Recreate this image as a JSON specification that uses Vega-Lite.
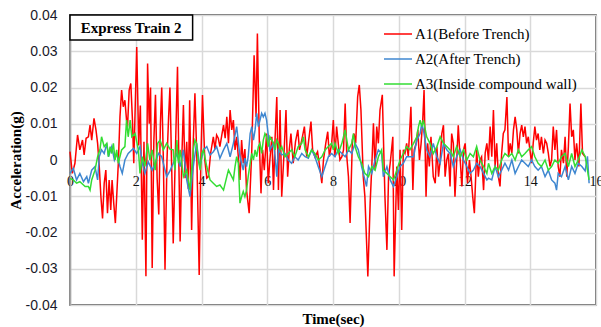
{
"$schema": "https://vega.github.io/schema/vega-lite/v6.json",
"width": 526, "height": 290,
"autosize": {"type": "none"},
"padding": {"left": 70, "top": 15, "right": 5, "bottom": 22},
"background": "white",
"config": {"view": {"stroke": "#3a3a3a", "strokeWidth": 1.5}},
"datasets": {
"a1": [{"t":0,"v":0.0023},{"t":0.07,"v":-0.0037},{"t":0.15,"v":-0.0009},{"t":0.23,"v":0.0069},{"t":0.30,"v":0.0028},{"t":0.38,"v":0.0055},{"t":0.43,"v":0.0014},{"t":0.49,"v":0.0060},{"t":0.56,"v":0.0064},{"t":0.61,"v":0.0096},{"t":0.66,"v":0.0055},{"t":0.73,"v":0.0115},{"t":0.79,"v":0.0083},{"t":0.84,"v":0.0046},{"t":0.89,"v":-0.0018},{"t":0.94,"v":-0.0101},{"t":0.99,"v":-0.0161},{"t":1.04,"v":-0.0064},{"t":1.09,"v":-0.0028},{"t":1.14,"v":-0.0147},{"t":1.19,"v":-0.0055},{"t":1.24,"v":-0.0138},{"t":1.28,"v":-0.0055},{"t":1.33,"v":-0.0119},{"t":1.38,"v":-0.0174},{"t":1.42,"v":-0.0101},{"t":1.47,"v":-0.0009},{"t":1.52,"v":0.0119},{"t":1.57,"v":0.0193},{"t":1.62,"v":0.0147},{"t":1.67,"v":0.0165},{"t":1.72,"v":0.0110},{"t":1.75,"v":0.0092},{"t":1.80,"v":0.0193},{"t":1.85,"v":0.0211},{"t":1.90,"v":0.0110},{"t":1.94,"v":-0.0009},{"t":2.03,"v":0.0312},{"t":2.09,"v":0.0040},{"t":2.14,"v":0.0150},{"t":2.20,"v":-0.0220},{"t":2.25,"v":0.0050},{"t":2.31,"v":-0.0321},{"t":2.36,"v":0.0266},{"t":2.41,"v":0.0100},{"t":2.45,"v":0.0200},{"t":2.50,"v":-0.0298},{"t":2.55,"v":0.0050},{"t":2.60,"v":0.0180},{"t":2.65,"v":-0.0050},{"t":2.70,"v":-0.0150},{"t":2.75,"v":0.0100},{"t":2.79,"v":0.0200},{"t":2.84,"v":0.0000},{"t":2.89,"v":-0.0303},{"t":2.95,"v":0.0000},{"t":3.00,"v":0.0120},{"t":3.04,"v":0.0200},{"t":3.10,"v":-0.0050},{"t":3.14,"v":-0.0230},{"t":3.20,"v":0.0000},{"t":3.27,"v":0.0257},{"t":3.31,"v":0.0000},{"t":3.35,"v":-0.0225},{"t":3.40,"v":0.0000},{"t":3.45,"v":0.0152},{"t":3.50,"v":-0.0050},{"t":3.55,"v":0.0050},{"t":3.60,"v":-0.0080},{"t":3.64,"v":0.0165},{"t":3.70,"v":-0.0193},{"t":3.75,"v":0.0050},{"t":3.80,"v":0.0184},{"t":3.86,"v":0.0000},{"t":3.93,"v":-0.0317},{"t":3.98,"v":0.0000},{"t":4.03,"v":0.0179},{"t":4.10,"v":0.0000},{"t":4.16,"v":-0.0050},{"t":4.21,"v":-0.0046},{"t":4.28,"v":0.0020},{"t":4.36,"v":0.0064},{"t":4.41,"v":0.0030},{"t":4.46,"v":0.0069},{"t":4.51,"v":0.0060},{"t":4.56,"v":0.0037},{"t":4.62,"v":0.0070},{"t":4.67,"v":0.0096},{"t":4.72,"v":0.0060},{"t":4.77,"v":0.0119},{"t":4.82,"v":0.0046},{"t":4.87,"v":0.0138},{"t":4.92,"v":0.0083},{"t":4.97,"v":0.0110},{"t":5.02,"v":0.0028},{"t":5.07,"v":0.0064},{"t":5.12,"v":0.0009},{"t":5.17,"v":-0.0055},{"t":5.22,"v":0.0055},{"t":5.27,"v":-0.0009},{"t":5.32,"v":0.0030},{"t":5.37,"v":-0.0083},{"t":5.45,"v":-0.0147},{"t":5.53,"v":0.0028},{"t":5.60,"v":0.0289},{"t":5.66,"v":0.0119},{"t":5.70,"v":0.0349},{"t":5.76,"v":0.0046},{"t":5.81,"v":-0.0092},{"t":5.86,"v":0.0028},{"t":5.91,"v":-0.0028},{"t":5.98,"v":0.0073},{"t":6.03,"v":-0.0064},{"t":6.08,"v":0.0000},{"t":6.14,"v":0.0064},{"t":6.19,"v":-0.0083},{"t":6.24,"v":0.0064},{"t":6.29,"v":0.0174},{"t":6.34,"v":-0.0083},{"t":6.39,"v":0.0138},{"t":6.44,"v":-0.0101},{"t":6.51,"v":0.0018},{"t":6.57,"v":0.0138},{"t":6.62,"v":-0.0046},{"t":6.67,"v":0.0028},{"t":6.72,"v":0.0073},{"t":6.79,"v":-0.0009},{"t":6.86,"v":0.0051},{"t":6.93,"v":0.0083},{"t":6.98,"v":0.0028},{"t":7.05,"v":0.0055},{"t":7.13,"v":0.0092},{"t":7.20,"v":0.0009},{"t":7.25,"v":0.0046},{"t":7.33,"v":0.0106},{"t":7.38,"v":0.0028},{"t":7.45,"v":0.0009},{"t":7.53,"v":0.0023},{"t":7.61,"v":-0.0028},{"t":7.66,"v":-0.0064},{"t":7.71,"v":0.0000},{"t":7.78,"v":0.0046},{"t":7.84,"v":0.0078},{"t":7.89,"v":0.0009},{"t":7.96,"v":0.0046},{"t":8.01,"v":0.0110},{"t":8.06,"v":0.0009},{"t":8.11,"v":0.0092},{"t":8.16,"v":0.0046},{"t":8.21,"v":0.0000},{"t":8.27,"v":0.0009},{"t":8.32,"v":0.0028},{"t":8.37,"v":0.0156},{"t":8.42,"v":0.0009},{"t":8.47,"v":-0.0046},{"t":8.52,"v":-0.0174},{"t":8.59,"v":0.0055},{"t":8.64,"v":0.0073},{"t":8.69,"v":0.0046},{"t":8.75,"v":0.0174},{"t":8.80,"v":0.0207},{"t":8.85,"v":0.0138},{"t":8.92,"v":-0.0046},{"t":8.97,"v":-0.0101},{"t":9.06,"v":-0.0321},{"t":9.13,"v":-0.0119},{"t":9.18,"v":-0.0018},{"t":9.23,"v":0.0101},{"t":9.28,"v":-0.0028},{"t":9.33,"v":0.0092},{"t":9.38,"v":0.0046},{"t":9.43,"v":0.0138},{"t":9.50,"v":0.0180},{"t":9.58,"v":-0.0101},{"t":9.64,"v":-0.0248},{"t":9.69,"v":-0.0046},{"t":9.74,"v":-0.0009},{"t":9.82,"v":0.0064},{"t":9.86,"v":-0.0321},{"t":9.94,"v":-0.0018},{"t":9.99,"v":-0.0138},{"t":10.04,"v":0.0028},{"t":10.09,"v":-0.0193},{"t":10.14,"v":0.0028},{"t":10.19,"v":0.0018},{"t":10.24,"v":0.0046},{"t":10.29,"v":0.0009},{"t":10.37,"v":0.0147},{"t":10.43,"v":-0.0083},{"t":10.47,"v":0.0028},{"t":10.53,"v":0.0046},{"t":10.58,"v":0.0083},{"t":10.63,"v":0.0000},{"t":10.68,"v":0.0046},{"t":10.73,"v":0.0110},{"t":10.77,"v":0.0193},{"t":10.83,"v":-0.0101},{"t":10.88,"v":0.0046},{"t":10.93,"v":-0.0018},{"t":10.98,"v":0.0064},{"t":11.05,"v":-0.0046},{"t":11.11,"v":-0.0064},{"t":11.16,"v":0.0037},{"t":11.21,"v":-0.0046},{"t":11.26,"v":0.0000},{"t":11.31,"v":0.0073},{"t":11.36,"v":0.0096},{"t":11.41,"v":-0.0046},{"t":11.46,"v":0.0000},{"t":11.51,"v":0.0018},{"t":11.56,"v":-0.0073},{"t":11.61,"v":0.0073},{"t":11.66,"v":0.0046},{"t":11.71,"v":-0.0101},{"t":11.76,"v":-0.0009},{"t":11.81,"v":0.0096},{"t":11.87,"v":0.0000},{"t":11.92,"v":-0.0073},{"t":11.97,"v":0.0028},{"t":12.02,"v":0.0046},{"t":12.09,"v":-0.0064},{"t":12.15,"v":0.0000},{"t":12.20,"v":-0.0046},{"t":12.25,"v":-0.0101},{"t":12.30,"v":-0.0147},{"t":12.37,"v":0.0028},{"t":12.42,"v":-0.0046},{"t":12.47,"v":0.0000},{"t":12.52,"v":0.0009},{"t":12.58,"v":-0.0083},{"t":12.63,"v":0.0020},{"t":12.68,"v":0.0046},{"t":12.73,"v":0.0000},{"t":12.78,"v":0.0092},{"t":12.83,"v":0.0009},{"t":12.88,"v":0.0138},{"t":12.93,"v":-0.0018},{"t":12.98,"v":0.0046},{"t":13.03,"v":-0.0046},{"t":13.08,"v":-0.0073},{"t":13.13,"v":0.0018},{"t":13.18,"v":0.0073},{"t":13.23,"v":0.0083},{"t":13.29,"v":0.0174},{"t":13.34,"v":0.0009},{"t":13.39,"v":0.0046},{"t":13.44,"v":0.0018},{"t":13.49,"v":0.0083},{"t":13.54,"v":0.0119},{"t":13.59,"v":0.0083},{"t":13.64,"v":0.0018},{"t":13.69,"v":0.0073},{"t":13.74,"v":0.0096},{"t":13.79,"v":0.0064},{"t":13.84,"v":0.0092},{"t":13.89,"v":0.0046},{"t":13.94,"v":0.0064},{"t":13.99,"v":0.0028},{"t":14.04,"v":-0.0009},{"t":14.09,"v":0.0046},{"t":14.14,"v":0.0092},{"t":14.19,"v":0.0055},{"t":14.24,"v":0.0073},{"t":14.29,"v":0.0028},{"t":14.34,"v":0.0064},{"t":14.40,"v":0.0018},{"t":14.45,"v":0.0055},{"t":14.50,"v":0.0046},{"t":14.55,"v":0.0018},{"t":14.60,"v":-0.0018},{"t":14.65,"v":0.0000},{"t":14.70,"v":0.0092},{"t":14.75,"v":0.0028},{"t":14.80,"v":0.0083},{"t":14.85,"v":-0.0018},{"t":14.90,"v":-0.0046},{"t":14.95,"v":0.0028},{"t":15.01,"v":-0.0009},{"t":15.06,"v":0.0064},{"t":15.11,"v":-0.0046},{"t":15.16,"v":0.0037},{"t":15.21,"v":0.0156},{"t":15.26,"v":0.0064},{"t":15.31,"v":0.0083},{"t":15.36,"v":0.0000},{"t":15.41,"v":0.0046},{"t":15.48,"v":-0.0018},{"t":15.54,"v":0.0156},{"t":15.59,"v":0.0018},{"t":15.67,"v":0.0009}],
"a2": [{"t":0,"v":-0.0037},{"t":0.10,"v":-0.0023},{"t":0.20,"v":-0.0055},{"t":0.30,"v":-0.0037},{"t":0.41,"v":-0.0060},{"t":0.51,"v":-0.0046},{"t":0.56,"v":-0.0064},{"t":0.66,"v":-0.0028},{"t":0.76,"v":-0.0018},{"t":0.84,"v":-0.0055},{"t":0.89,"v":0.0009},{"t":0.96,"v":0.0028},{"t":1.04,"v":0.0018},{"t":1.12,"v":0.0046},{"t":1.17,"v":0.0009},{"t":1.27,"v":0.0037},{"t":1.35,"v":0.0000},{"t":1.42,"v":0.0018},{"t":1.52,"v":-0.0018},{"t":1.59,"v":-0.0037},{"t":1.67,"v":0.0000},{"t":1.77,"v":0.0018},{"t":1.93,"v":0.0032},{"t":2.03,"v":0.0018},{"t":2.13,"v":0.0037},{"t":2.20,"v":-0.0009},{"t":2.28,"v":-0.0037},{"t":2.38,"v":-0.0005},{"t":2.50,"v":-0.0028},{"t":2.59,"v":-0.0009},{"t":2.69,"v":0.0018},{"t":2.79,"v":0.0009},{"t":2.94,"v":-0.0046},{"t":3.04,"v":-0.0030},{"t":3.14,"v":-0.0009},{"t":3.25,"v":0.0018},{"t":3.35,"v":-0.0018},{"t":3.45,"v":0.0028},{"t":3.55,"v":-0.0055},{"t":3.65,"v":-0.0101},{"t":3.75,"v":-0.0018},{"t":3.85,"v":0.0046},{"t":3.95,"v":-0.0018},{"t":4.06,"v":0.0028},{"t":4.16,"v":0.0037},{"t":4.26,"v":0.0014},{"t":4.36,"v":0.0023},{"t":4.46,"v":0.0037},{"t":4.56,"v":0.0005},{"t":4.67,"v":0.0028},{"t":4.77,"v":0.0046},{"t":4.87,"v":0.0009},{"t":4.97,"v":0.0046},{"t":5.07,"v":0.0092},{"t":5.17,"v":0.0009},{"t":5.22,"v":-0.0009},{"t":5.27,"v":-0.0028},{"t":5.32,"v":0.0005},{"t":5.37,"v":-0.0018},{"t":5.42,"v":0.0009},{"t":5.48,"v":0.0073},{"t":5.53,"v":0.0092},{"t":5.58,"v":0.0055},{"t":5.63,"v":0.0083},{"t":5.68,"v":0.0129},{"t":5.73,"v":0.0092},{"t":5.78,"v":0.0110},{"t":5.83,"v":0.0129},{"t":5.88,"v":0.0119},{"t":5.93,"v":0.0129},{"t":5.98,"v":0.0110},{"t":6.03,"v":0.0069},{"t":6.08,"v":0.0028},{"t":6.19,"v":0.0046},{"t":6.24,"v":0.0010},{"t":6.29,"v":-0.0046},{"t":6.34,"v":0.0028},{"t":6.44,"v":0.0014},{"t":6.54,"v":0.0018},{"t":6.64,"v":0.0000},{"t":6.74,"v":-0.0009},{"t":6.84,"v":0.0009},{"t":6.94,"v":0.0000},{"t":7.05,"v":0.0018},{"t":7.15,"v":0.0009},{"t":7.25,"v":0.0005},{"t":7.35,"v":0.0028},{"t":7.45,"v":0.0009},{"t":7.55,"v":-0.0018},{"t":7.66,"v":-0.0046},{"t":7.76,"v":-0.0018},{"t":7.86,"v":0.0009},{"t":7.96,"v":0.0018},{"t":8.06,"v":0.0009},{"t":8.16,"v":0.0028},{"t":8.27,"v":0.0018},{"t":8.37,"v":0.0009},{"t":8.47,"v":0.0028},{"t":8.57,"v":0.0018},{"t":8.67,"v":0.0046},{"t":8.77,"v":0.0028},{"t":8.87,"v":-0.0018},{"t":8.97,"v":-0.0055},{"t":9.02,"v":-0.0073},{"t":9.08,"v":-0.0018},{"t":9.18,"v":-0.0037},{"t":9.28,"v":0.0000},{"t":9.38,"v":0.0028},{"t":9.48,"v":0.0018},{"t":9.53,"v":-0.0046},{"t":9.64,"v":-0.0018},{"t":9.74,"v":-0.0055},{"t":9.84,"v":-0.0073},{"t":9.94,"v":-0.0046},{"t":10.04,"v":-0.0018},{"t":10.14,"v":-0.0009},{"t":10.24,"v":0.0009},{"t":10.34,"v":0.0009},{"t":10.45,"v":0.0009},{"t":10.55,"v":0.0055},{"t":10.65,"v":0.0073},{"t":10.70,"v":0.0101},{"t":10.75,"v":0.0083},{"t":10.85,"v":0.0028},{"t":10.95,"v":0.0009},{"t":11.05,"v":0.0046},{"t":11.16,"v":0.0009},{"t":11.26,"v":-0.0009},{"t":11.36,"v":0.0046},{"t":11.46,"v":0.0028},{"t":11.56,"v":0.0018},{"t":11.66,"v":-0.0018},{"t":11.76,"v":0.0009},{"t":11.87,"v":0.0028},{"t":11.97,"v":0.0000},{"t":12.07,"v":-0.0018},{"t":12.17,"v":-0.0037},{"t":12.27,"v":-0.0028},{"t":12.37,"v":-0.0009},{"t":12.47,"v":-0.0018},{"t":12.58,"v":-0.0037},{"t":12.68,"v":-0.0055},{"t":12.73,"v":-0.0050},{"t":12.83,"v":-0.0055},{"t":12.93,"v":-0.0018},{"t":13.03,"v":-0.0046},{"t":13.13,"v":-0.0028},{"t":13.23,"v":-0.0009},{"t":13.34,"v":-0.0028},{"t":13.44,"v":0.0000},{"t":13.54,"v":-0.0037},{"t":13.64,"v":-0.0018},{"t":13.74,"v":0.0000},{"t":13.84,"v":-0.0009},{"t":13.94,"v":-0.0018},{"t":14.04,"v":0.0000},{"t":14.14,"v":-0.0018},{"t":14.24,"v":-0.0028},{"t":14.34,"v":-0.0018},{"t":14.45,"v":-0.0046},{"t":14.55,"v":-0.0028},{"t":14.65,"v":-0.0055},{"t":14.75,"v":-0.0064},{"t":14.80,"v":-0.0083},{"t":14.85,"v":-0.0037},{"t":14.95,"v":-0.0046},{"t":15.06,"v":-0.0018},{"t":15.16,"v":-0.0055},{"t":15.26,"v":-0.0018},{"t":15.36,"v":-0.0037},{"t":15.46,"v":-0.0009},{"t":15.57,"v":-0.0018},{"t":15.67,"v":-0.0030},{"t":15.74,"v":0.0010},{"t":15.79,"v":-0.0064}],
"a3": [{"t":0,"v":-0.0051},{"t":0.10,"v":-0.0055},{"t":0.20,"v":-0.0064},{"t":0.30,"v":-0.0060},{"t":0.41,"v":-0.0069},{"t":0.46,"v":-0.0073},{"t":0.56,"v":-0.0073},{"t":0.61,"v":-0.0083},{"t":0.66,"v":-0.0055},{"t":0.76,"v":-0.0028},{"t":0.84,"v":0.0009},{"t":0.91,"v":0.0028},{"t":0.96,"v":0.0064},{"t":1.04,"v":0.0037},{"t":1.12,"v":0.0046},{"t":1.17,"v":0.0009},{"t":1.22,"v":0.0037},{"t":1.27,"v":0.0018},{"t":1.32,"v":0.0046},{"t":1.37,"v":0.0000},{"t":1.42,"v":0.0028},{"t":1.47,"v":-0.0009},{"t":1.57,"v":0.0028},{"t":1.67,"v":0.0037},{"t":1.72,"v":0.0110},{"t":1.77,"v":0.0064},{"t":1.83,"v":0.0110},{"t":1.88,"v":0.0064},{"t":1.98,"v":0.0073},{"t":2.08,"v":0.0028},{"t":2.13,"v":-0.0037},{"t":2.20,"v":0.0009},{"t":2.28,"v":-0.0018},{"t":2.36,"v":0.0046},{"t":2.43,"v":0.0000},{"t":2.50,"v":0.0028},{"t":2.59,"v":-0.0028},{"t":2.67,"v":0.0046},{"t":2.74,"v":0.0055},{"t":2.84,"v":0.0028},{"t":2.94,"v":0.0046},{"t":3.04,"v":0.0030},{"t":3.14,"v":0.0028},{"t":3.19,"v":-0.0028},{"t":3.25,"v":0.0055},{"t":3.30,"v":-0.0009},{"t":3.35,"v":0.0028},{"t":3.45,"v":-0.0046},{"t":3.55,"v":-0.0028},{"t":3.65,"v":-0.0083},{"t":3.70,"v":-0.0028},{"t":3.75,"v":0.0028},{"t":3.80,"v":0.0055},{"t":3.85,"v":0.0046},{"t":3.90,"v":0.0000},{"t":3.96,"v":-0.0028},{"t":4.01,"v":0.0018},{"t":4.06,"v":0.0028},{"t":4.16,"v":-0.0018},{"t":4.21,"v":-0.0037},{"t":4.26,"v":-0.0055},{"t":4.36,"v":-0.0064},{"t":4.46,"v":-0.0073},{"t":4.56,"v":-0.0069},{"t":4.67,"v":-0.0083},{"t":4.77,"v":-0.0046},{"t":4.82,"v":-0.0028},{"t":4.87,"v":-0.0037},{"t":4.97,"v":-0.0055},{"t":5.02,"v":-0.0018},{"t":5.07,"v":0.0009},{"t":5.12,"v":-0.0009},{"t":5.17,"v":-0.0119},{"t":5.22,"v":-0.0101},{"t":5.27,"v":-0.0087},{"t":5.32,"v":-0.0101},{"t":5.37,"v":-0.0083},{"t":5.42,"v":-0.0046},{"t":5.48,"v":-0.0009},{"t":5.53,"v":0.0018},{"t":5.58,"v":0.0000},{"t":5.63,"v":0.0028},{"t":5.68,"v":0.0009},{"t":5.73,"v":0.0037},{"t":5.78,"v":0.0046},{"t":5.83,"v":0.0018},{"t":5.88,"v":0.0055},{"t":5.93,"v":0.0073},{"t":5.98,"v":0.0064},{"t":6.03,"v":0.0037},{"t":6.08,"v":0.0064},{"t":6.19,"v":0.0046},{"t":6.24,"v":0.0028},{"t":6.29,"v":0.0055},{"t":6.34,"v":0.0046},{"t":6.39,"v":0.0028},{"t":6.44,"v":0.0037},{"t":6.54,"v":0.0009},{"t":6.64,"v":0.0018},{"t":6.74,"v":0.0028},{"t":6.84,"v":0.0009},{"t":6.94,"v":0.0037},{"t":7.05,"v":0.0046},{"t":7.10,"v":0.0064},{"t":7.15,"v":0.0028},{"t":7.25,"v":0.0009},{"t":7.35,"v":0.0028},{"t":7.45,"v":0.0018},{"t":7.55,"v":0.0000},{"t":7.66,"v":0.0009},{"t":7.76,"v":0.0028},{"t":7.86,"v":0.0037},{"t":7.96,"v":0.0046},{"t":8.01,"v":0.0028},{"t":8.06,"v":0.0046},{"t":8.16,"v":0.0018},{"t":8.27,"v":0.0046},{"t":8.37,"v":0.0083},{"t":8.42,"v":0.0055},{"t":8.47,"v":0.0028},{"t":8.57,"v":0.0046},{"t":8.62,"v":0.0073},{"t":8.67,"v":0.0037},{"t":8.77,"v":0.0009},{"t":8.87,"v":-0.0009},{"t":8.97,"v":-0.0037},{"t":9.08,"v":-0.0046},{"t":9.18,"v":-0.0018},{"t":9.28,"v":-0.0028},{"t":9.38,"v":0.0009},{"t":9.48,"v":0.0028},{"t":9.53,"v":-0.0028},{"t":9.64,"v":-0.0037},{"t":9.74,"v":-0.0046},{"t":9.84,"v":-0.0055},{"t":9.94,"v":-0.0028},{"t":10.04,"v":0.0000},{"t":10.14,"v":0.0018},{"t":10.24,"v":0.0037},{"t":10.34,"v":0.0028},{"t":10.45,"v":0.0046},{"t":10.55,"v":0.0064},{"t":10.60,"v":0.0092},{"t":10.65,"v":0.0110},{"t":10.70,"v":0.0092},{"t":10.75,"v":0.0110},{"t":10.85,"v":0.0064},{"t":10.95,"v":0.0046},{"t":11.05,"v":0.0018},{"t":11.16,"v":0.0037},{"t":11.26,"v":0.0064},{"t":11.36,"v":0.0046},{"t":11.46,"v":0.0037},{"t":11.56,"v":0.0028},{"t":11.66,"v":0.0009},{"t":11.76,"v":0.0037},{"t":11.87,"v":0.0009},{"t":11.97,"v":0.0028},{"t":12.07,"v":0.0000},{"t":12.17,"v":0.0018},{"t":12.27,"v":0.0009},{"t":12.37,"v":0.0037},{"t":12.47,"v":0.0000},{"t":12.58,"v":-0.0018},{"t":12.68,"v":-0.0037},{"t":12.73,"v":-0.0009},{"t":12.83,"v":-0.0037},{"t":12.93,"v":-0.0018},{"t":13.03,"v":-0.0028},{"t":13.13,"v":0.0000},{"t":13.23,"v":0.0018},{"t":13.34,"v":0.0009},{"t":13.44,"v":0.0018},{"t":13.54,"v":0.0000},{"t":13.64,"v":0.0028},{"t":13.74,"v":0.0009},{"t":13.84,"v":0.0018},{"t":13.94,"v":0.0028},{"t":14.04,"v":0.0037},{"t":14.14,"v":0.0009},{"t":14.24,"v":-0.0009},{"t":14.34,"v":-0.0018},{"t":14.45,"v":0.0000},{"t":14.55,"v":-0.0028},{"t":14.65,"v":-0.0018},{"t":14.75,"v":0.0000},{"t":14.85,"v":-0.0009},{"t":14.95,"v":0.0009},{"t":15.06,"v":0.0018},{"t":15.16,"v":-0.0018},{"t":15.26,"v":0.0018},{"t":15.36,"v":-0.0018},{"t":15.46,"v":0.0000},{"t":15.57,"v":0.0028},{"t":15.67,"v":0.0010},{"t":15.79,"v":-0.0055}]
},
"layer": [
{
"encoding": {
"x": {"field": "t", "type": "quantitative",
 "scale": {"domain": [0, 16], "nice": false, "zero": false},
 "axis": {"values": [0,2,4,6,8,10,12,14,16], "offset": -145, "domain": false, "ticks": false, "labelPadding": 14, "labelFont": "Liberation Serif", "labelFontSize": 14, "labelColor": "#111111", "labelFlush": false, "labelOverlap": false, "gridColor": "#d9d9d9", "gridWidth": 1.5, "title": "Time(sec)", "titleFont": "Liberation Serif", "titleFontSize": 15, "titleFontWeight": "bold", "titleColor": "#000000", "titleY": 158, "titleBaseline": "middle"}},
"y": {"field": "v", "type": "quantitative",
 "scale": {"domain": [-0.04, 0.04], "nice": false},
 "axis": {"tickCount": 8, "labelExpr": "datum.value == 0 ? '0' : replace(format(datum.value, '.2f'), '\u2212', '-')", "ticks": false, "domainColor": "#a6a6a6", "domainWidth": 1.5, "gridColor": "#d9d9d9", "gridWidth": 1.5, "labelFont": "Liberation Sans", "labelFontSize": 14, "labelColor": "#1a1a2a", "labelPadding": 13, "labelFlush": false, "labelOverlap": false, "title": "Acceleration(g)", "titleFont": "Liberation Serif", "titleFontSize": 15, "titleFontWeight": "bold", "titleColor": "#000000", "titleX": -55, "titleAngle": -90, "titleBaseline": "middle"}}
},
"layer": [
{"data": {"name": "a1"}, "mark": {"type": "line", "strokeWidth": 1.5}, "encoding": {"color": {"datum": "A1(Before Trench)", "type": "nominal", "scale": {"domain": ["A1(Before Trench)", "A2(After Trench)", "A3(Inside compound wall)"], "range": ["#ff0000", "#3f87d0", "#33dd33"]}, "legend": {"orient": "none", "legendX": 313, "legendY": 4, "title": null, "symbolType": "stroke", "symbolSize": 784, "symbolStrokeWidth": 1.5, "labelFont": "Liberation Serif", "labelFontSize": 15, "labelColor": "#000000", "rowPadding": 2, "labelOffset": 2, "padding": 0, "labelLimit": 300}}}},
{"data": {"name": "a2"}, "mark": {"type": "line", "strokeWidth": 1.5}, "encoding": {"color": {"datum": "A2(After Trench)", "type": "nominal"}}},
{"data": {"name": "a3"}, "mark": {"type": "line", "strokeWidth": 1.5}, "encoding": {"color": {"datum": "A3(Inside compound wall)", "type": "nominal"}}}
]
},
{"data": {"values": [{}]}, "mark": {"type": "rect", "fill": "white", "stroke": "#000000", "strokeWidth": 1.5},
 "encoding": {"x": {"datum": 0, "type": "quantitative"}, "x2": {"datum": 3.73}, "y": {"datum": 0.04, "type": "quantitative"}, "y2": {"datum": 0.0331}}},
{"data": {"values": [{}]}, "mark": {"type": "text", "font": "Liberation Serif", "fontSize": 15, "fontWeight": "bold", "color": "#000000", "align": "center", "baseline": "middle"},
 "encoding": {"x": {"datum": 1.86, "type": "quantitative"}, "y": {"datum": 0.03655, "type": "quantitative"}, "text": {"value": "Express Train 2"}}}
]
}
